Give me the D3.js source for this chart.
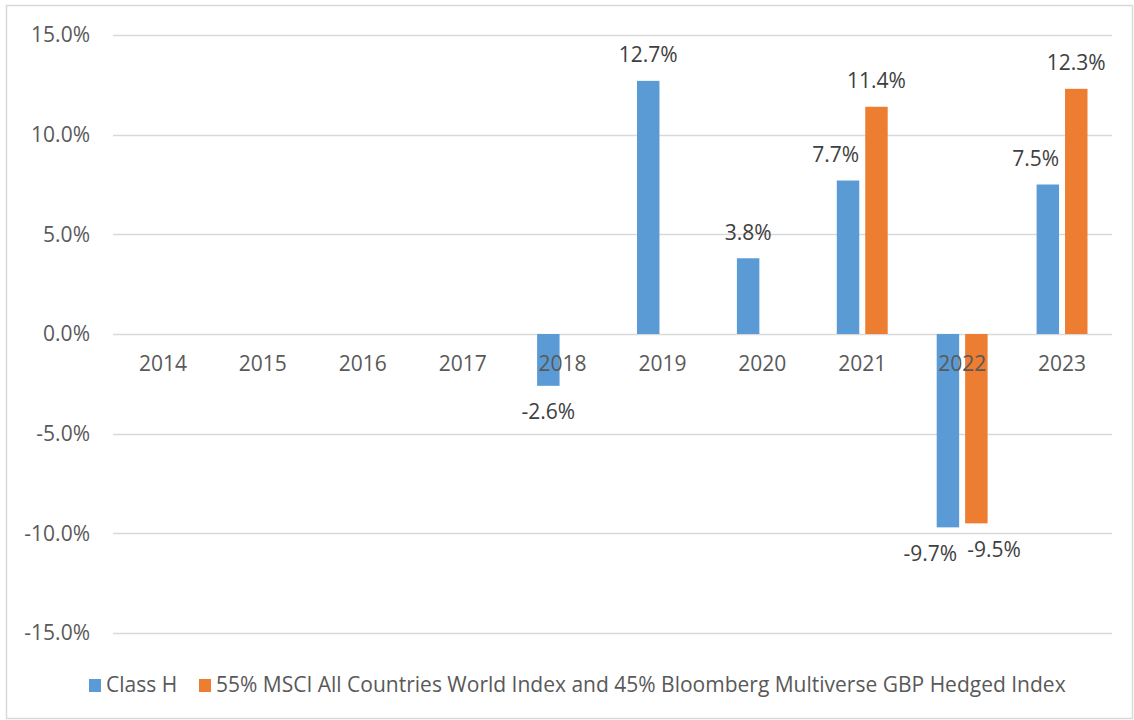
<!DOCTYPE html>
<html>
<head>
<meta charset="utf-8">
<script src="https://cdn.jsdelivr.net/npm/d3@7"></script>
<style>
  body { margin: 0; background: #fff; }
  svg { display: block; font-family: 'Open Sans', sans-serif; }
</style>
</head>
<body>
<svg id="chart" width="1134" height="720"></svg>
<script>
const years = ['2014', '2015', '2016', '2017', '2018', '2019', '2020', '2021', '2022', '2023']
const seriesNames = ['Class H', '55% MSCI All Countries World Index and 45% Bloomberg Multiverse GBP Hedged Index']
const classH = [null, null, null, null, -2.6, 12.7, 3.8, 7.7, -9.7, 7.5]
const benchmark = [null, null, null, null, null, null, null, 11.4, -9.5, 12.3]
const yTicks = [-15, -10, -5, 0, 5, 10, 15]
const colors = ['#5B9BD5', '#ED7D31']

const svg = d3.select('#chart')
const plot = { left: 113, right: 1112, top: 35, bottom: 633 }
const fontSize = 21

// chart frame
svg.append('rect')
  .attr('x', 6.5).attr('y', 5.5)
  .attr('width', 1126).attr('height', 713)
  .attr('fill', 'none')
  .attr('stroke', '#d9d9d9')
  .attr('stroke-width', 1.5)

const x0 = d3.scaleBand()
  .domain(years)
  .range([plot.left, plot.right])

const groupPad = 24.5
const x1 = d3.scaleBand()
  .domain([0, 1])
  .range([groupPad, x0.bandwidth() - groupPad])
  .paddingInner(0.21)

const y = d3.scaleLinear()
  .domain([-15, 15])
  .range([plot.bottom, plot.top])

const fmt = (v) => v.toFixed(1) + '%'

// gridlines
svg.append('g')
  .selectAll('line')
  .data(yTicks)
  .join('line')
    .attr('x1', plot.left).attr('x2', plot.right)
    .attr('y1', (d) => Math.round(y(d)) + 0.5)
    .attr('y2', (d) => Math.round(y(d)) + 0.5)
    .attr('stroke', '#d9d9d9')
    .attr('stroke-width', 1.5)

// y labels
svg.append('g')
  .selectAll('text')
  .data(yTicks)
  .join('text')
    .attr('x', 90)
    .attr('y', (d) => y(d))
    .attr('dy', '0.35em')
    .attr('text-anchor', 'end')
    .attr('font-size', fontSize)
    .attr('fill', '#595959')
    .text(fmt)

// bars
const bars = []
years.forEach((yr, i) => {
  [classH[i], benchmark[i]].forEach((v, s) => {
    if (v === null) return
    bars.push({ year: yr, s: s, v: v,
      x: x0(yr) + x1(s), w: x1.bandwidth(),
      top: y(Math.max(0, v)), bottom: y(Math.min(0, v)) })
  })
})

svg.append('g')
  .selectAll('rect')
  .data(bars)
  .join('rect')
    .attr('x', (d) => d.x)
    .attr('y', (d) => d.top)
    .attr('width', (d) => d.w)
    .attr('height', (d) => d.bottom - d.top)
    .attr('fill', (d) => colors[d.s])

// category labels
svg.append('g')
  .selectAll('text')
  .data(years)
  .join('text')
    .attr('x', (d) => x0(d) + x0.bandwidth() / 2)
    .attr('y', y(0) + 30)
    .attr('dy', '0.35em')
    .attr('text-anchor', 'middle')
    .attr('font-size', fontSize)
    .attr('fill', '#595959')
    .text((d) => d)

// data labels, nudged sideways when they collide
const labelG = svg.append('g')
const labels = labelG.selectAll('text')
  .data(bars)
  .join('text')
    .attr('text-anchor', 'middle')
    .attr('dy', '0.35em')
    .attr('font-size', fontSize)
    .attr('fill', '#404040')
    .text((d) => fmt(d.v))

labels.each(function (d) {
  d.lw = this.getComputedTextLength()
  d.lx = d.x + d.w / 2
  d.ly = d.v >= 0 ? d.top - 26 : d.bottom + 26
})

const lh = 20
years.forEach((yr) => {
  const group = bars.filter((b) => b.year === yr)
  // keep clear of the neighbouring bar
  group.forEach((d) => {
    group.forEach((o) => {
      if (o === d) return
      const vHit = d.ly + lh / 2 > o.top && d.ly - lh / 2 < o.bottom
      if (!vHit) return
      if (o.x > d.x) d.lx = Math.min(d.lx, o.x - 6 - d.lw / 2)
      else d.lx = Math.max(d.lx, o.x + o.w + 6 + d.lw / 2)
    })
  })
  // keep clear of each other
  if (group.length === 2) {
    const [a, b] = group
    const need = (a.lw + b.lw) / 2 + 10
    if (Math.abs(a.ly - b.ly) < lh && b.lx - a.lx < need) {
      const push = (need - (b.lx - a.lx)) / 2
      a.lx -= push
      b.lx += push
    }
  }
})

labels
  .attr('x', (d) => d.lx)
  .attr('y', (d) => d.ly)

// legend
const legend = svg.append('g')
  .attr('transform', 'translate(0, 685)')
const legendX = [89, 199]
seriesNames.forEach((name, i) => {
  legend.append('rect')
    .attr('x', legendX[i]).attr('y', -6)
    .attr('width', 12).attr('height', 13)
    .attr('fill', colors[i])
  legend.append('text')
    .attr('x', legendX[i] + 17)
    .attr('dy', '0.35em')
    .attr('font-size', fontSize)
    .attr('fill', '#595959')
    .text(name)
})
</script>
</body>
</html>
